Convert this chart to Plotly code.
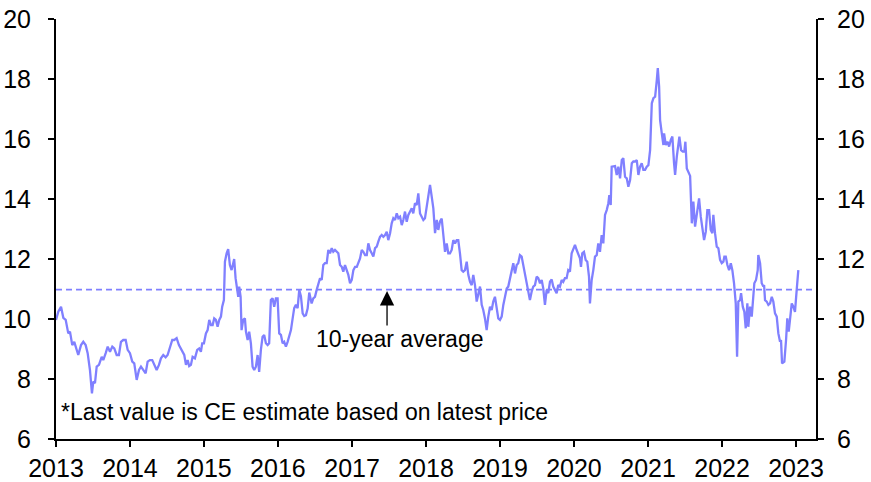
import datetime as dt
import plotly.graph_objects as go

# ---- data ----
YEARS = [
    2013.000, 2013.031, 2013.068, 2013.099, 2013.131, 2013.166, 2013.189, 2013.220, 2013.247, 2013.301,
    2013.338, 2013.369, 2013.401, 2013.428, 2013.459, 2013.486, 2013.504, 2013.527, 2013.550, 2013.581,
    2013.618, 2013.639, 2013.672, 2013.699, 2013.730, 2013.761, 2013.788, 2013.820, 2013.851, 2013.878,
    2013.909, 2013.942, 2013.969, 2014.000, 2014.031, 2014.058, 2014.091, 2014.122, 2014.149, 2014.180,
    2014.212, 2014.239, 2014.270, 2014.301, 2014.328, 2014.361, 2014.392, 2014.419, 2014.450, 2014.482,
    2014.509, 2014.541, 2014.572, 2014.599, 2014.631, 2014.662,
    2014.712, 2014.734, 2014.757, 2014.780, 2014.801, 2014.824, 2014.847, 2014.878, 2014.909, 2014.936,
    2014.959, 2014.977, 2015.000, 2015.027, 2015.050, 2015.072, 2015.095, 2015.118, 2015.139, 2015.162,
    2015.185, 2015.207, 2015.230, 2015.247, 2015.270, 2015.284, 2015.307, 2015.328, 2015.351, 2015.374,
    2015.396, 2015.409, 2015.428, 2015.450, 2015.464, 2015.477, 2015.496, 2015.509, 2015.531, 2015.554,
    2015.568, 2015.591, 2015.612, 2015.635, 2015.658, 2015.680, 2015.703, 2015.726, 2015.747, 2015.770,
    2015.793, 2015.815, 2015.838, 2015.861, 2015.882, 2015.905, 2015.928, 2015.950, 2015.973, 2015.996,
    2016.018, 2016.041, 2016.064, 2016.085, 2016.108, 2016.131, 2016.153, 2016.176, 2016.199, 2016.220,
    2016.243, 2016.266, 2016.288, 2016.311, 2016.334, 2016.355, 2016.378, 2016.401, 2016.423,
    2016.455, 2016.477, 2016.500, 2016.523, 2016.545, 2016.568, 2016.591, 2016.612, 2016.635, 2016.658,
    2016.680, 2016.703, 2016.726, 2016.747, 2016.770, 2016.793, 2016.815, 2016.838, 2016.861, 2016.882,
    2016.905, 2016.928, 2016.950, 2016.973, 2016.996, 2017.018, 2017.041, 2017.064, 2017.085, 2017.108,
    2017.131, 2017.153, 2017.176, 2017.199, 2017.220, 2017.243, 2017.266, 2017.288, 2017.311, 2017.334,
    2017.355, 2017.378, 2017.401, 2017.423, 2017.446, 2017.469, 2017.490, 2017.514, 2017.536, 2017.558,
    2017.581, 2017.604, 2017.626, 2017.649, 2017.672, 2017.693, 2017.716, 2017.739, 2017.761, 2017.784,
    2017.807, 2017.828, 2017.851, 2017.874, 2017.896, 2017.919, 2017.942, 2017.964, 2017.986, 2018.009,
    2018.031, 2018.054, 2018.077, 2018.099, 2018.122, 2018.145, 2018.166, 2018.189, 2018.212, 2018.234,
    2018.257,
    2018.280, 2018.301, 2018.324, 2018.347, 2018.369, 2018.392, 2018.415, 2018.436, 2018.459, 2018.482,
    2018.504, 2018.527, 2018.550, 2018.572, 2018.595, 2018.618, 2018.639, 2018.662, 2018.685, 2018.707,
    2018.730, 2018.753, 2018.774, 2018.797, 2018.820, 2018.842, 2018.865, 2018.888, 2018.909, 2018.932,
    2018.955, 2018.977, 2019.000, 2019.023, 2019.045, 2019.068, 2019.091, 2019.112, 2019.135, 2019.158,
    2019.180, 2019.203, 2019.226, 2019.247, 2019.270, 2019.293, 2019.315, 2019.338, 2019.361, 2019.382,
    2019.405, 2019.428, 2019.450, 2019.473, 2019.496, 2019.518, 2019.541, 2019.564, 2019.585, 2019.608,
    2019.631, 2019.653, 2019.676, 2019.699, 2019.720, 2019.743, 2019.766, 2019.788, 2019.811, 2019.834,
    2019.855, 2019.878, 2019.901, 2019.923, 2019.946, 2019.969, 2019.991, 2020.014, 2020.037, 2020.058,
    2020.081, 2020.095, 2020.112, 2020.135, 2020.158, 2020.180, 2020.203, 2020.216, 2020.239, 2020.261,
    2020.284, 2020.307, 2020.328, 2020.351, 2020.374, 2020.396, 2020.419, 2020.442, 2020.464, 2020.477,
    2020.496, 2020.509, 2020.531, 2020.554, 2020.577, 2020.599, 2020.622, 2020.645, 2020.666, 2020.689,
    2020.712, 2020.734, 2020.757, 2020.780, 2020.801, 2020.824, 2020.847, 2020.869, 2020.892, 2020.914,
    2020.936, 2020.959, 2020.982, 2021.004, 2021.027, 2021.050, 2021.072, 2021.095, 2021.118, 2021.131,
    2021.149, 2021.162, 2021.185, 2021.207, 2021.216, 2021.239, 2021.261, 2021.284, 2021.307, 2021.328,
    2021.351, 2021.365, 2021.388, 2021.409, 2021.423, 2021.446, 2021.469, 2021.490, 2021.504, 2021.523,
    2021.545, 2021.568,
    2021.591, 2021.612, 2021.635, 2021.658, 2021.689, 2021.712, 2021.734, 2021.757, 2021.780, 2021.801,
    2021.824, 2021.847, 2021.869, 2021.882, 2021.905, 2021.928, 2021.950, 2021.973, 2021.996, 2022.018,
    2022.031, 2022.050, 2022.072, 2022.095, 2022.118, 2022.139, 2022.162, 2022.185, 2022.203, 2022.220,
    2022.243, 2022.257, 2022.280, 2022.301, 2022.320, 2022.342, 2022.355, 2022.378, 2022.401, 2022.423,
    2022.436, 2022.459, 2022.482, 2022.490, 2022.514, 2022.536, 2022.558, 2022.568, 2022.581, 2022.604,
    2022.626, 2022.649, 2022.672, 2022.693, 2022.716, 2022.739, 2022.761, 2022.784, 2022.797, 2022.811,
    2022.842, 2022.865, 2022.882, 2022.901, 2022.919, 2022.942, 2022.964, 2022.986, 2023.009, 2023.031,
]

VALUES = [
    9.97, 10.24, 10.41, 10.04, 9.97, 9.52, 9.58, 9.13, 9.24, 8.80,
    9.13, 9.24, 9.13, 8.86, 8.30, 7.52, 7.91, 7.86, 8.41, 8.47,
    8.74, 8.63, 8.86, 9.08, 8.91, 9.08, 9.02, 8.80, 8.80, 9.24,
    9.30, 9.30, 8.97, 8.86, 8.58, 8.52, 7.97, 8.30, 8.41, 8.30,
    8.19, 8.58, 8.63, 8.63, 8.47, 8.30, 8.47, 8.69, 8.80, 8.72,
    8.80, 9.08, 9.30, 9.30, 9.36, 9.13,
    8.86, 8.80, 8.47, 8.63, 8.43, 8.47, 8.74, 8.69, 8.97, 9.02,
    8.91, 9.19, 9.19, 9.52, 9.63, 9.97, 9.80, 9.80, 10.02, 9.97,
    9.74, 9.97, 10.08, 10.41, 10.63, 11.91, 12.19, 12.33, 11.80, 11.63,
    11.86, 12.00, 11.36, 11.02, 10.74, 11.08, 10.74, 9.63, 9.97, 10.02,
    9.58, 9.30, 9.58, 9.19, 8.41, 8.30, 8.41, 8.80, 8.24, 8.97,
    9.41, 9.47, 9.19, 9.13, 9.19, 10.63, 10.69, 10.41, 10.69, 10.69,
    9.52, 9.47, 9.19, 9.24, 9.08, 9.24, 9.41, 9.63, 10.02, 10.36,
    10.47, 10.36, 10.97, 10.75, 10.19, 10.10, 10.13, 10.35, 10.88,
    10.52, 10.69, 10.74, 10.97, 11.19, 11.36, 11.30, 11.80, 11.86, 11.86,
    12.30, 12.19, 12.36, 12.24, 12.30, 12.24, 12.19, 11.80, 11.74, 11.58,
    11.80, 11.63, 11.47, 11.19, 11.30, 11.63, 11.74, 11.74, 11.86, 12.02,
    12.30, 12.24, 12.13, 12.13, 12.52, 12.30, 12.19, 12.08, 12.36, 12.41,
    12.58, 12.74, 12.80, 12.74, 12.80, 12.91, 12.63, 12.86, 13.19, 13.36,
    13.30, 13.52, 13.36, 13.41, 13.13, 13.30, 13.58, 13.24, 13.47, 13.58,
    13.69, 13.52, 13.86, 13.80, 14.19, 13.52, 13.41, 13.30, 13.36, 13.69,
    14.02, 14.47, 14.08, 13.69, 12.86, 13.30, 12.97, 13.25, 13.35, 12.75,
    12.24,
    12.52, 12.19, 12.19, 12.30, 12.63, 12.52, 12.63, 12.63, 12.19, 11.63,
    11.58, 11.63, 11.91, 11.47, 11.24, 11.13, 11.47, 11.13, 10.58, 10.86,
    11.08, 10.47, 10.30, 10.02, 9.63, 10.08, 10.41, 10.30, 10.58, 10.74,
    10.30, 10.02, 9.97, 10.08, 10.47, 10.74, 11.02, 11.08, 11.36, 11.69,
    11.86, 11.52, 11.80, 11.86, 12.13, 12.08, 11.80, 11.47, 11.24, 11.02,
    10.63, 10.91, 11.08, 11.13, 11.41, 11.36, 11.19, 11.30, 11.02, 10.47,
    10.97, 10.86, 11.24, 11.32, 11.08, 10.97, 10.86, 11.13, 11.08, 11.30,
    11.24, 11.36, 11.36, 11.63, 11.58, 12.19, 12.30, 12.47, 12.30, 12.13,
    12.02, 11.74, 12.19, 12.24, 11.97, 11.91, 11.41, 10.52, 11.30, 11.63,
    12.08, 12.13, 12.52, 12.24, 12.80, 12.52, 13.47, 13.63, 13.86, 14.13,
    13.80, 15.08, 15.08, 15.10, 14.80, 15.08, 14.69, 15.30, 15.36, 14.74,
    14.69, 14.41, 14.63, 15.19, 15.25, 15.25, 15.30, 14.80, 15.08, 15.19,
    14.97, 14.97, 15.08, 15.13, 15.63, 17.19, 17.36, 17.41, 17.97, 18.36,
    17.74, 16.63, 16.19, 15.80, 16.19, 15.80, 15.91, 15.75, 15.97, 16.08,
    15.19, 14.80, 15.41, 15.86, 16.08, 15.63, 15.58, 15.58, 15.91, 15.02,
    14.91, 14.77,
    13.19, 13.91, 13.08, 13.47, 14.02, 13.41, 13.08, 12.63, 12.91, 13.63,
    13.63, 12.97, 12.86, 13.47, 12.86, 12.41, 12.36, 11.97, 11.86, 11.91,
    12.08, 12.08, 11.80, 11.63, 11.86, 11.63, 11.19, 10.52, 8.74, 10.58,
    10.63, 10.86, 10.41, 10.24, 9.69, 10.52, 9.74, 10.41, 10.08, 10.63,
    11.19, 11.30, 11.63, 12.13, 11.86, 11.19, 11.08, 11.13, 10.63, 10.58,
    10.47, 10.52, 10.74, 10.58, 10.19, 10.08, 9.52, 9.24, 9.30, 8.52,
    8.58, 9.30, 10.02, 9.58, 10.02, 10.52, 10.41, 10.24, 10.97, 11.63,
]

TEN_YEAR_AVERAGE = 10.98
AVG_LABEL = "10-year average"
NOTE = "*Last value is CE estimate based on latest price"
X_START_YEAR = 2013.0
X_END_YEAR = 2023.27
Y_RANGE = [6, 20]
Y_TICKS = [6, 8, 10, 12, 14, 16, 18, 20]
ARROW_YEAR = 2017.473
ARROW_TIP, ARROW_TAIL = 10.93, 9.73
LABEL_YEAR, LABEL_VALUE = 2017.65, 9.33

LINE_COLOR = "#8080ff"
FONT = "Liberation Sans, Arial, sans-serif"


def dec_to_date(y):
    year = int(y)
    start = dt.datetime(year, 1, 1)
    end = dt.datetime(year + 1, 1, 1)
    return start + (end - start) * (y - year)


dates = [dec_to_date(y) for y in YEARS]

fig = go.Figure()
fig.add_trace(go.Scatter(x=dates, y=VALUES, mode="lines",
                         line=dict(color=LINE_COLOR, width=2.3), hoverinfo="skip",
                         showlegend=False))
# invisible copy so the right-hand axis is drawn
fig.add_trace(go.Scatter(x=dates, y=VALUES, mode="lines", yaxis="y2",
                         line=dict(color="rgba(0,0,0,0)", width=0), hoverinfo="skip",
                         showlegend=False))

fig.add_shape(type="line", xref="paper", x0=0, x1=1, yref="y",
              y0=TEN_YEAR_AVERAGE, y1=TEN_YEAR_AVERAGE,
              line=dict(color=LINE_COLOR, width=1.8, dash="6px,4px"))

fig.add_annotation(x=dec_to_date(ARROW_YEAR), y=ARROW_TIP,
                   ax=dec_to_date(ARROW_YEAR), ay=ARROW_TAIL,
                   axref="x", ayref="y", xref="x", yref="y",
                   text="", showarrow=True, arrowhead=2, arrowsize=2.2,
                   arrowwidth=1.3, arrowcolor="black", standoff=0, startstandoff=0)
fig.add_annotation(x=dec_to_date(LABEL_YEAR), y=LABEL_VALUE, xref="x", yref="y",
                   text=AVG_LABEL, showarrow=False,
                   font=dict(family=FONT, size=23, color="black"))
fig.add_annotation(x=0.004, y=0.064, xref="paper", yref="paper",
                   xanchor="left", yanchor="middle", text=NOTE, showarrow=False,
                   font=dict(family=FONT, size=23, color="black"))

axis_common = dict(showgrid=False, zeroline=False, showline=True, linecolor="black",
                   linewidth=2, ticks="outside", ticklen=6, tickwidth=2, tickcolor="black",
                   automargin=False,
                   tickfont=dict(family=FONT, size=25, color="black"))

fig.update_layout(
    width=871, height=482,
    margin=dict(l=56, r=55, t=19, b=43, autoexpand=False),
    paper_bgcolor="white", plot_bgcolor="white",
    font=dict(family=FONT, size=23, color="black"),
    xaxis=dict(type="date", range=[dec_to_date(X_START_YEAR), dec_to_date(X_END_YEAR)],
               tick0="2013-01-01", dtick="M12", tickformat="%Y", ticklabelstandoff=0,
               **axis_common),
    yaxis=dict(range=Y_RANGE, tickvals=Y_TICKS, ticklabelstandoff=12, **axis_common),
    yaxis2=dict(range=Y_RANGE, tickvals=Y_TICKS, overlaying="y", side="right",
                ticklabelstandoff=8, **axis_common),
)

# remove the browser's default page margin so the figure sits at the window's corner
fig.write_html("out.html",
               config={"displayModeBar": False},
               post_script="document.body.style.margin='0';document.body.style.overflow='hidden';")
